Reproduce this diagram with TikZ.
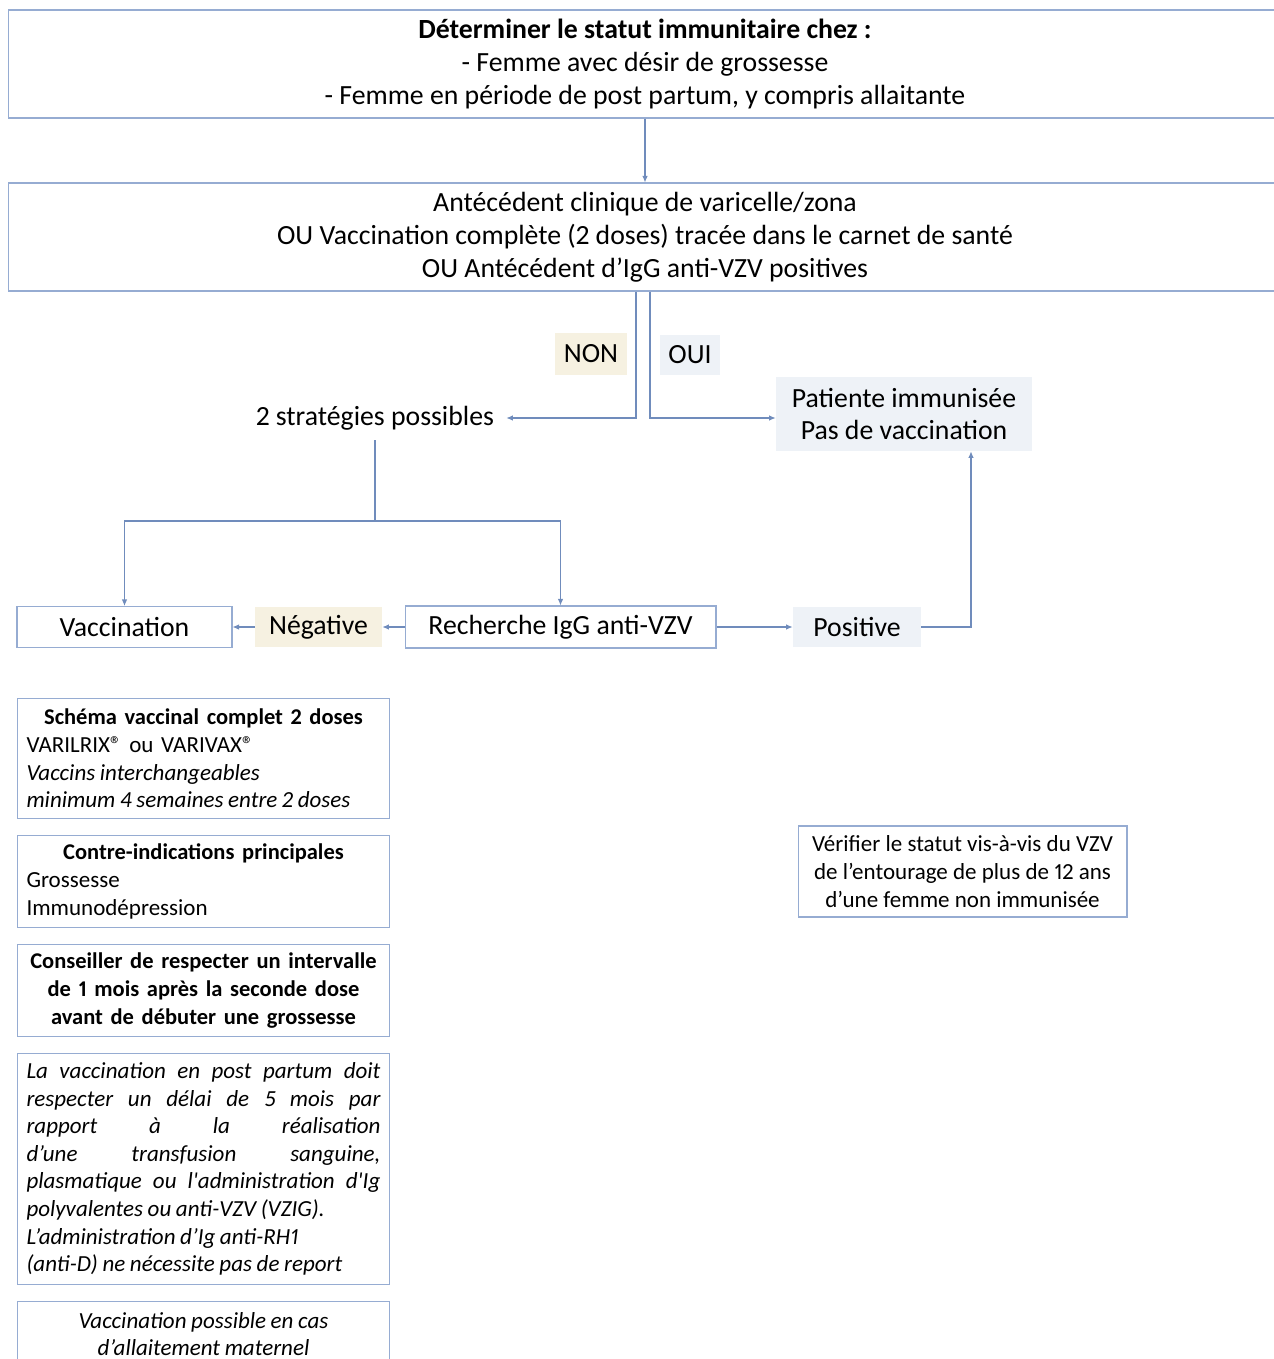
\documentclass[tikz,border=0pt]{standalone}
\usepackage{fontspec}
\setmainfont{Carlito}[Numbers=Proportional]
\usetikzlibrary{arrows.meta}
\definecolor{vzvframe}{RGB}{150,172,210}
\definecolor{vzvarrow}{RGB}{112,140,188}
\definecolor{vzvbeige}{RGB}{246,241,225}
\definecolor{vzvblue}{RGB}{238,242,247}
\newcommand{\bigtxt}{\fontsize{15.8}{18.7}\selectfont}
\newcommand{\smalltxt}{\fontsize{13.1}{15.7}\selectfont}
\newcommand{\notebf}{\fontsize{12.8}{15.7}\selectfont\bfseries}
\newcommand{\noteit}{\itshape\spaceskip=0.2em plus 0.4em minus 0.05em\relax}
\tikzset{
  frame/.style={draw=vzvframe, line width=0.6pt, inner sep=0pt},
  box/.style={frame, align=center, font=\bigtxt},
  tag/.style={inner sep=0pt, align=center, font=\bigtxt},
  note/.style={frame, anchor=north west, minimum width=7.44cm, text width=7.08cm, font=\smalltxt},
  link/.style={draw=vzvarrow, line width=0.6pt},
  arrow/.style={link, -{Latex[length=1.3mm, width=1.1mm]}}
}
\begin{document}
\begin{tikzpicture}[x=0.02cm, y=-0.02cm]
  \useasboundingbox (0,0) rectangle (1274,1359);
  \node[box, minimum width=25.48cm, minimum height=2.16cm] (statut) at (645,64) {\textbf{Déterminer le statut immunitaire chez :}\\- Femme avec désir de grossesse\\- Femme en période de post partum, y compris allaitante};
  \node[box, minimum width=25.48cm, minimum height=2.16cm] (atcd) at (645,237) {Antécédent clinique de varicelle/zona\\OU Vaccination complète (2 doses) tracée dans le carnet de santé\\OU Antécédent d’IgG anti-VZV positives};
  \node[tag, fill=vzvbeige, minimum width=1.44cm, minimum height=0.84cm] (non) at (591,354) {NON};
  \node[tag, fill=vzvblue, minimum width=1.2cm, minimum height=0.8cm] (oui) at (690,355) {OUI};
  \node[tag, inner xsep=0.24cm, inner ysep=0.2cm] (strat) at (375,418) {2 stratégies possibles};
  \node[tag, fill=vzvblue, minimum width=5.12cm, minimum height=1.48cm] (immun) at (904,414) {Patiente immunisée\\Pas de vaccination};
  \coordinate (fork) at (375,521);
  \node[box, minimum width=4.3cm, minimum height=0.82cm] (vacc) at (124.5,627) {Vaccination};
  \node[tag, fill=vzvbeige, minimum width=2.54cm, minimum height=0.8cm] (neg) at (318.5,627) {Négative};
  \node[box, minimum width=6.22cm, minimum height=0.84cm] (rech) at (560.5,627) {Recherche IgG anti-VZV};
  \node[tag, fill=vzvblue, minimum width=2.56cm, minimum height=0.8cm] (pos) at (857,627) {Positive};
  % encadres de gauche
  \node[note, minimum height=2.4cm] (schema) at (17,698) {{\centering\notebf Schéma vaccinal complet 2 doses\par}\raggedright VARILRIX® ou VARIVAX®\\{\noteit Vaccins interchangeables}\\{\noteit minimum 4 semaines entre 2 doses}};
  \node[note, minimum height=1.84cm] (contre) at (17,835) {{\centering\notebf Contre-indications principales\par}\raggedright Grossesse\\Immunodépression};
  \node[note, align=center, minimum height=1.84cm] (conseil) at (17,944) {\notebf Conseiller de respecter un intervalle\\de 1 mois après la seconde dose\\avant de débuter une grossesse};
  \node[note, align=justify, minimum height=4.62cm] (postp) at (17,1053) {\noteit La vaccination en post partum doit\linebreak respecter un délai de 5 mois par\linebreak rapport à la réalisation\linebreak d’une transfusion sanguine,\linebreak plasmatique ou l\textquotesingle administration d\textquotesingle Ig\linebreak polyvalentes ou anti-VZV (VZIG).\par\raggedright L’administration d’Ig anti-RH1\\(anti-D) ne nécessite pas de report};
  \node[note, align=center, minimum height=1.3cm] (allait) at (17,1301) {\itshape\spaceskip=0.2em\relax Vaccination possible en cas\\d’allaitement maternel};
  \node[box, font=\smalltxt, minimum width=6.58cm, minimum height=1.82cm] (entour) at (962.5,871.5) {Vérifier le statut vis-à-vis du VZV\\de l’entourage de plus de 12 ans\\d’une femme non immunisée};
  % connecteurs
  \draw[arrow] (statut) -- (atcd);
  \draw[arrow] ([xshift=-0.18cm]atcd.south) |- (strat.east);
  \draw[arrow] ([xshift=0.1cm]atcd.south) |- ([yshift=-0.08cm]immun.west);
  \draw[link] (strat.south) -- (fork);
  \draw[arrow] (fork) -| (vacc.north);
  \draw[arrow] (fork) -| (rech.north);
  \draw[arrow] (rech) -- (neg);
  \draw[arrow] (neg) -- (vacc);
  \draw[arrow] (rech) -- (pos);
  \draw[arrow] (pos.east) -| ([xshift=1.34cm]immun.south);
\end{tikzpicture}
\end{document}
